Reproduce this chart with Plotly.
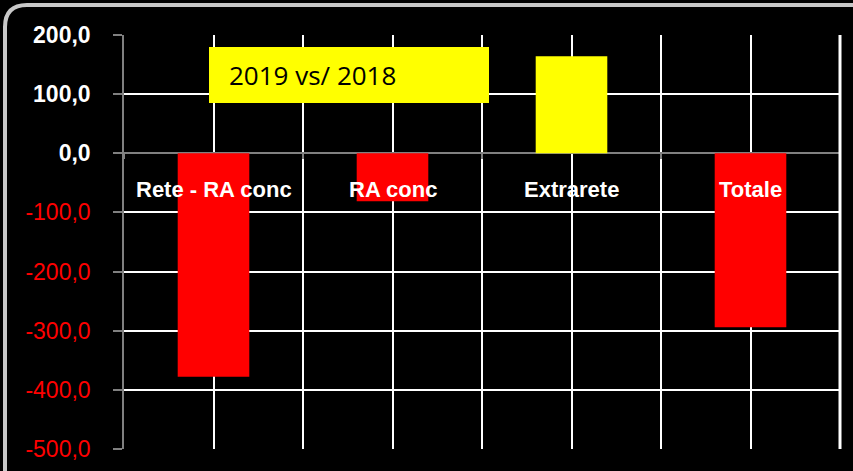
import plotly.graph_objects as go

categories = ["Rete - RA conc", "RA conc", "Extrarete", "Totale"]
values = [-378.0, -81.0, 164.0, -294.0]
y_tick_values = [200, 100, 0, -100, -200, -300, -400, -500]
title_text = "2019 vs/ 2018"

W, H = 853, 471
# plot area in page pixels: x 124..840, y 35..449
PL, PR, PT, PB = 124, 840, 35, 449
ML, MT = PL, PT
MR = W - PR
MB = H - PB
PW, PH = PR - PL, PB - PT


def px_x(p):
    return (p - PL) / PW


def px_y(p):
    return (PB - p) / PH


xs = list(range(len(categories)))
colors = ["#FFFF00" if v >= 0 else "#FF0000" for v in values]


def fmt(v):
    s = f"{v:.1f}".replace(".", ",")
    if v < 0:
        return f"<span style='color:#FF0000'>{s}</span>"
    return f"<b>{s}</b>"


fig = go.Figure()
fig.add_trace(go.Bar(x=xs, y=values, marker=dict(color=colors, line=dict(width=0)),
                     width=0.4, hoverinfo="skip", showlegend=False))

ymin, ymax = -500, 200

fig.update_layout(
    width=W, height=H,
    margin=dict(l=ML, r=MR, t=MT, b=MB, autoexpand=False),
    paper_bgcolor="black", plot_bgcolor="black",
    font=dict(family="Liberation Sans", color="white"),
    xaxis=dict(range=[-0.5, len(categories) - 0.5], tick0=-0.5, dtick=1,
               showgrid=True, gridcolor="white", gridwidth=1.5,
               minor=dict(dtick=0.5, tick0=-0.5, showgrid=True, gridcolor="white", gridwidth=1.5),
               showticklabels=False, ticks="", zeroline=False, showline=False,
               automargin=False),
    xaxis2=dict(range=[-0.5, len(categories) - 0.5], overlaying="x", anchor="free",
                position=(0 - ymin) / (ymax - ymin), side="bottom",
                tick0=-0.5, dtick=1, ticks="outside", ticklen=5, tickcolor="#808080", tickwidth=2,
                showticklabels=False, showgrid=False, zeroline=False, showline=False,
                automargin=False),
    yaxis=dict(range=[ymin, ymax], tickvals=y_tick_values,
               ticktext=[fmt(v) for v in y_tick_values],
               tickfont=dict(size=23, color="white", family="Liberation Sans"),
               showgrid=True, gridcolor="white", gridwidth=1.5,
               zeroline=True, zerolinecolor="#808080", zerolinewidth=2,
               showline=True, linecolor="#808080", linewidth=1.5,
               ticks="outside", ticklen=9, tickcolor="#808080", tickwidth=1.5,
               ticklabelstandoff=18, automargin=False),
)

fig.add_trace(go.Scatter(x=[xs[0]], y=[0], xaxis="x2", mode="markers",
                         marker=dict(opacity=0), hoverinfo="skip", showlegend=False))

for x, c in zip(xs, categories):
    fig.add_annotation(x=x, y=0, xref="x", yref="y", text=f"<b>{c}</b>",
                       showarrow=False, yanchor="top", yshift=-22,
                       font=dict(size=22, color="white", family="Liberation Sans"))

# right border
fig.add_shape(type="line", xref="paper", yref="paper", x0=1, x1=1, y0=0, y1=1,
              line=dict(color="white", width=3))

# yellow title box
fig.add_shape(type="rect", xref="paper", yref="paper",
              x0=px_x(209), x1=px_x(489), y0=px_y(103), y1=px_y(47),
              fillcolor="#FFFF00", line=dict(width=0), layer="above")
fig.add_annotation(xref="paper", yref="paper", x=px_x(227), y=px_y(75),
                   xanchor="left", yanchor="middle", text=title_text, showarrow=False,
                   font=dict(size=26, color="black", family="Open Sans"))

# outer rounded frame
r = 22
x0p, y0p = 5, 5
path = (f"M {px_x(x0p)} {px_y(W + 20)} L {px_x(x0p)} {px_y(y0p + r)} "
        f"Q {px_x(x0p)} {px_y(y0p)} {px_x(x0p + r)} {px_y(y0p)} "
        f"L {px_x(W + 20)} {px_y(y0p)}")
fig.add_shape(type="path", xref="paper", yref="paper", path=path,
              line=dict(color="#c8c8c8", width=4))

fig.write_html("out.html", config={"displayModeBar": False},
               post_script="document.body.style.margin='0';document.body.style.background='black';")
